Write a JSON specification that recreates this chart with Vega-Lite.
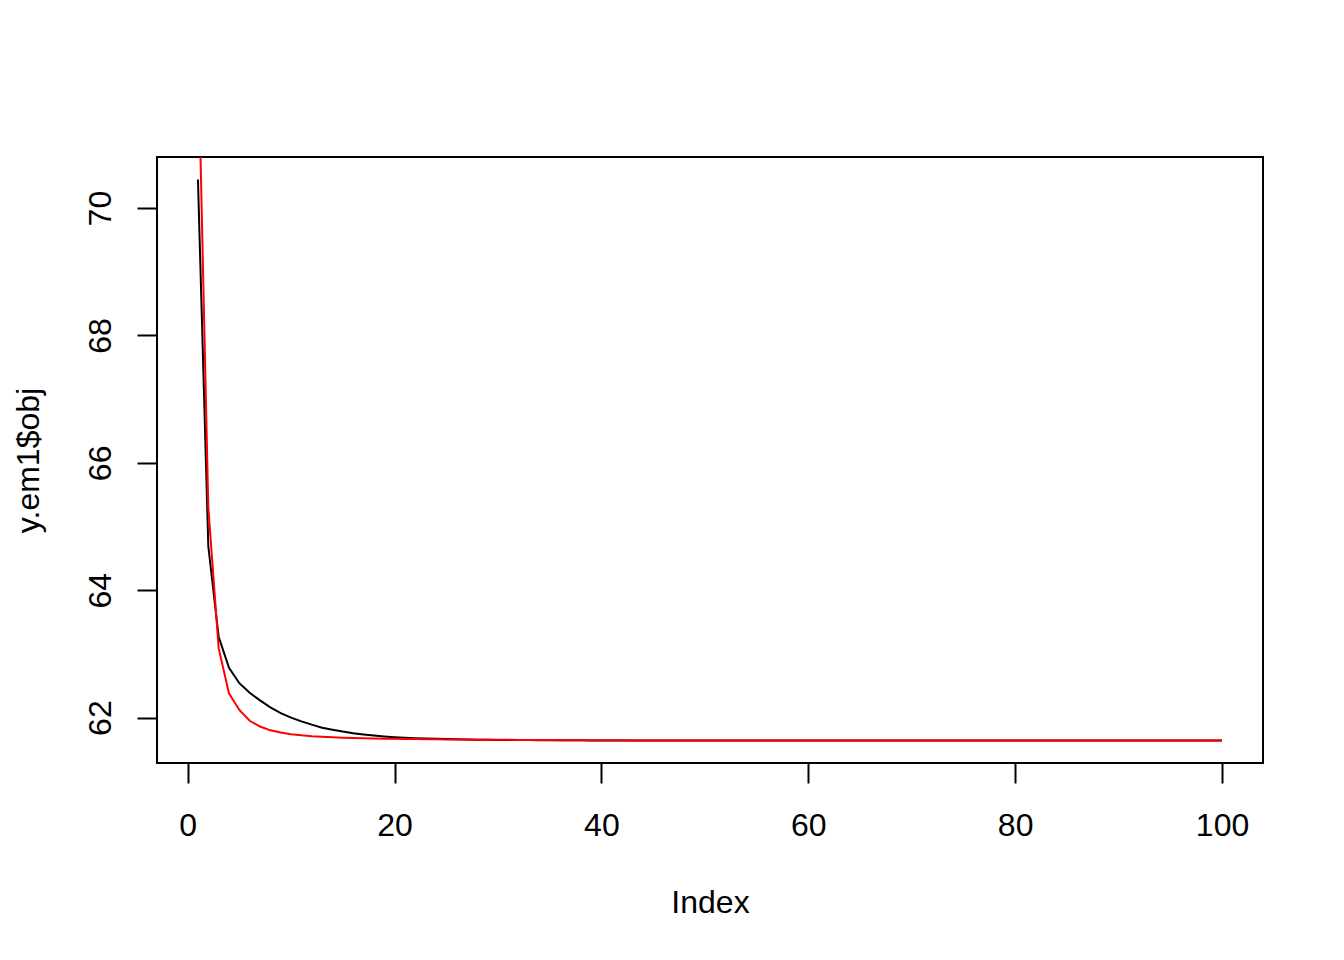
{
  "$schema": "https://vega.github.io/schema/vega-lite/v6.json",
  "autosize": {"type": "none"},
  "padding": {"left": 157, "top": 157, "right": 81, "bottom": 197},
  "width": 1106,
  "height": 606,
  "background": "white",
  "config": {
    "view": {"stroke": "black", "strokeWidth": 2},
    "font": "Liberation Sans",
    "axis": {
      "grid": false,
      "domain": false,
      "tickColor": "black",
      "tickWidth": 2,
      "tickSize": 20,
      "labelColor": "black",
      "labelFont": "Liberation Sans",
      "labelFontSize": 32,
      "titleColor": "black",
      "titleFont": "Liberation Sans",
      "titleFontSize": 32,
      "titleFontWeight": "normal"
    }
  },
  "data": {
    "values": [
      {"i": 1, "em1": 70.45, "em2": 72.6},
      {"i": 2, "em1": 64.69, "em2": 65.3},
      {"i": 3, "em1": 63.27, "em2": 63.09},
      {"i": 4, "em1": 62.78, "em2": 62.38},
      {"i": 5, "em1": 62.54, "em2": 62.12},
      {"i": 6, "em1": 62.39, "em2": 61.95},
      {"i": 7, "em1": 62.27, "em2": 61.86},
      {"i": 8, "em1": 62.16, "em2": 61.8},
      {"i": 9, "em1": 62.07, "em2": 61.765},
      {"i": 10, "em1": 62.0, "em2": 61.74},
      {"i": 11, "em1": 61.94, "em2": 61.722},
      {"i": 12, "em1": 61.89, "em2": 61.708},
      {"i": 13, "em1": 61.84, "em2": 61.698},
      {"i": 14, "em1": 61.81, "em2": 61.69},
      {"i": 15, "em1": 61.78, "em2": 61.684},
      {"i": 16, "em1": 61.755, "em2": 61.679},
      {"i": 17, "em1": 61.735, "em2": 61.675},
      {"i": 18, "em1": 61.718, "em2": 61.672},
      {"i": 19, "em1": 61.704, "em2": 61.669},
      {"i": 20, "em1": 61.693, "em2": 61.667},
      {"i": 21, "em1": 61.684, "em2": 61.665},
      {"i": 22, "em1": 61.677, "em2": 61.663},
      {"i": 23, "em1": 61.671, "em2": 61.661},
      {"i": 24, "em1": 61.666, "em2": 61.659},
      {"i": 25, "em1": 61.662, "em2": 61.657},
      {"i": 26, "em1": 61.659, "em2": 61.656},
      {"i": 27, "em1": 61.656, "em2": 61.655},
      {"i": 28, "em1": 61.654, "em2": 61.654},
      {"i": 29, "em1": 61.652, "em2": 61.653},
      {"i": 30, "em1": 61.65, "em2": 61.652},
      {"i": 31, "em1": 61.649, "em2": 61.651},
      {"i": 32, "em1": 61.648, "em2": 61.65},
      {"i": 33, "em1": 61.647, "em2": 61.649},
      {"i": 34, "em1": 61.646, "em2": 61.648},
      {"i": 35, "em1": 61.645, "em2": 61.647},
      {"i": 36, "em1": 61.644, "em2": 61.646},
      {"i": 37, "em1": 61.643, "em2": 61.645},
      {"i": 38, "em1": 61.643, "em2": 61.645},
      {"i": 39, "em1": 61.642, "em2": 61.644},
      {"i": 40, "em1": 61.642, "em2": 61.644},
      {"i": 41, "em1": 61.641, "em2": 61.643},
      {"i": 42, "em1": 61.641, "em2": 61.643},
      {"i": 43, "em1": 61.641, "em2": 61.642},
      {"i": 44, "em1": 61.641, "em2": 61.642},
      {"i": 45, "em1": 61.641, "em2": 61.642},
      {"i": 46, "em1": 61.641, "em2": 61.641},
      {"i": 47, "em1": 61.641, "em2": 61.641},
      {"i": 48, "em1": 61.641, "em2": 61.641},
      {"i": 49, "em1": 61.641, "em2": 61.641},
      {"i": 50, "em1": 61.641, "em2": 61.641},
      {"i": 51, "em1": 61.64, "em2": 61.64},
      {"i": 52, "em1": 61.64, "em2": 61.64},
      {"i": 53, "em1": 61.64, "em2": 61.64},
      {"i": 54, "em1": 61.64, "em2": 61.64},
      {"i": 55, "em1": 61.64, "em2": 61.64},
      {"i": 56, "em1": 61.64, "em2": 61.64},
      {"i": 57, "em1": 61.64, "em2": 61.64},
      {"i": 58, "em1": 61.64, "em2": 61.64},
      {"i": 59, "em1": 61.64, "em2": 61.64},
      {"i": 60, "em1": 61.64, "em2": 61.64},
      {"i": 61, "em1": 61.64, "em2": 61.64},
      {"i": 62, "em1": 61.64, "em2": 61.64},
      {"i": 63, "em1": 61.64, "em2": 61.64},
      {"i": 64, "em1": 61.64, "em2": 61.64},
      {"i": 65, "em1": 61.64, "em2": 61.64},
      {"i": 66, "em1": 61.64, "em2": 61.64},
      {"i": 67, "em1": 61.64, "em2": 61.64},
      {"i": 68, "em1": 61.64, "em2": 61.64},
      {"i": 69, "em1": 61.64, "em2": 61.64},
      {"i": 70, "em1": 61.64, "em2": 61.64},
      {"i": 71, "em1": 61.639, "em2": 61.639},
      {"i": 72, "em1": 61.639, "em2": 61.639},
      {"i": 73, "em1": 61.639, "em2": 61.639},
      {"i": 74, "em1": 61.639, "em2": 61.639},
      {"i": 75, "em1": 61.639, "em2": 61.639},
      {"i": 76, "em1": 61.639, "em2": 61.639},
      {"i": 77, "em1": 61.639, "em2": 61.639},
      {"i": 78, "em1": 61.639, "em2": 61.639},
      {"i": 79, "em1": 61.639, "em2": 61.639},
      {"i": 80, "em1": 61.639, "em2": 61.639},
      {"i": 81, "em1": 61.639, "em2": 61.639},
      {"i": 82, "em1": 61.639, "em2": 61.639},
      {"i": 83, "em1": 61.639, "em2": 61.639},
      {"i": 84, "em1": 61.639, "em2": 61.639},
      {"i": 85, "em1": 61.639, "em2": 61.639},
      {"i": 86, "em1": 61.639, "em2": 61.639},
      {"i": 87, "em1": 61.639, "em2": 61.639},
      {"i": 88, "em1": 61.639, "em2": 61.639},
      {"i": 89, "em1": 61.639, "em2": 61.639},
      {"i": 90, "em1": 61.639, "em2": 61.639},
      {"i": 91, "em1": 61.639, "em2": 61.639},
      {"i": 92, "em1": 61.639, "em2": 61.639},
      {"i": 93, "em1": 61.639, "em2": 61.639},
      {"i": 94, "em1": 61.639, "em2": 61.639},
      {"i": 95, "em1": 61.639, "em2": 61.639},
      {"i": 96, "em1": 61.639, "em2": 61.639},
      {"i": 97, "em1": 61.639, "em2": 61.639},
      {"i": 98, "em1": 61.639, "em2": 61.639},
      {"i": 99, "em1": 61.639, "em2": 61.639},
      {"i": 100, "em1": 61.639, "em2": 61.639}
    ]
  },
  "transform": [{"fold": ["em1", "em2"], "as": ["series", "obj"]}],
  "mark": {"type": "line", "clip": true, "strokeWidth": 2},
  "encoding": {
    "x": {
      "field": "i",
      "type": "quantitative",
      "scale": {"domain": [-2.96, 103.96], "nice": false, "zero": false},
      "axis": {
        "title": "Index",
        "values": [0, 20, 40, 60, 80, 100],
        "labelBaseline": "alphabetic",
        "labelPadding": 52,
        "labelFlush": false,
        "labelOverlap": false,
        "titleBaseline": "alphabetic",
        "titleX": 553,
        "titleY": 149,
        "titleAnchor": null
      }
    },
    "y": {
      "field": "obj",
      "type": "quantitative",
      "scale": {"domain": [61.287, 70.802], "nice": false, "zero": false},
      "axis": {
        "title": "y.em1$obj",
        "values": [62, 64, 66, 68, 70],
        "labelAngle": -90,
        "labelAlign": "center",
        "labelBaseline": "alphabetic",
        "labelPadding": 27,
        "labelFlush": false,
        "labelOverlap": false,
        "titleAngle": -90,
        "titleAlign": "center",
        "titleBaseline": "alphabetic",
        "titleX": -119,
        "titleY": 303
      }
    },
    "color": {
      "field": "series",
      "type": "nominal",
      "scale": {"domain": ["em1", "em2"], "range": ["black", "red"]},
      "legend": null
    }
  }
}
